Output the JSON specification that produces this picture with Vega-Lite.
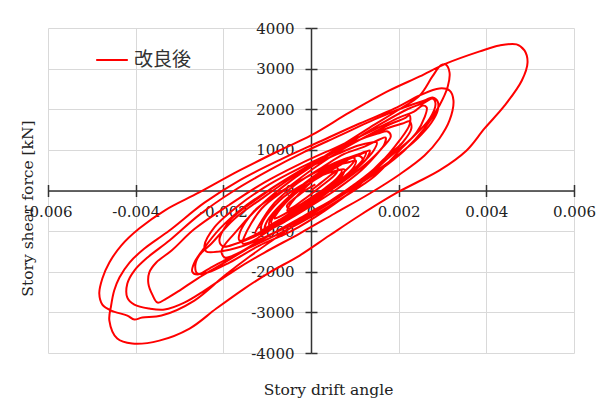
{
  "$schema": "https://vega.github.io/schema/vega-lite/v6.json",
  "width": 526,
  "height": 325,
  "autosize": {"type": "none"},
  "padding": {"left": 48, "top": 28, "right": 25, "bottom": 48},
  "background": "white",
  "config": {"view": {"stroke": null}},
  "data": {"values": [
    {"t":1,"x":0,"y":0},{"t":2,"x":0.00015,"y":123},{"t":3,"x":0.00038,"y":320},{"t":4,"x":0.00061,"y":493},{"t":5,"x":0.0007,"y":493},
    {"t":6,"x":0.00061,"y":320},{"t":7,"x":0.00031,"y":49},{"t":8,"x":-0.00003,"y":-197},{"t":9,"x":-0.00035,"y":-419},{"t":10,"x":-0.00054,"y":-493},
    {"t":11,"x":-0.00049,"y":-369},{"t":12,"x":-0.00015,"y":50},{"t":13,"x":0.00019,"y":350},{"t":14,"x":0.00054,"y":600},{"t":15,"x":0.00088,"y":700},
    {"t":16,"x":0.00102,"y":739},{"t":17,"x":0.00097,"y":566},{"t":18,"x":0.00065,"y":246},{"t":19,"x":0.00019,"y":-74},{"t":20,"x":-0.00026,"y":-394},
    {"t":21,"x":-0.00067,"y":-690},{"t":22,"x":-0.0009,"y":-813},{"t":23,"x":-0.00086,"y":-640},{"t":24,"x":-0.00049,"y":-150},{"t":25,"x":-0.00003,"y":250},
    {"t":26,"x":0.00042,"y":560},{"t":27,"x":0.00088,"y":780},{"t":28,"x":0.00122,"y":936},{"t":29,"x":0.00134,"y":985},{"t":30,"x":0.00127,"y":788},
    {"t":31,"x":0.00092,"y":443},{"t":32,"x":0.00042,"y":49},{"t":33,"x":-0.00015,"y":-369},{"t":34,"x":-0.00067,"y":-739},{"t":35,"x":-0.00113,"y":-1034},
    {"t":36,"x":-0.00127,"y":-1059},{"t":37,"x":-0.0012,"y":-887},{"t":38,"x":-0.00083,"y":-300},{"t":39,"x":-0.00031,"y":180},{"t":40,"x":0.00024,"y":560},
    {"t":41,"x":0.00076,"y":900},{"t":42,"x":0.00122,"y":1080},{"t":43,"x":0.00156,"y":1256},{"t":44,"x":0.0017,"y":1305},{"t":45,"x":0.00166,"y":1108},
    {"t":46,"x":0.00134,"y":739},{"t":47,"x":0.00083,"y":296},{"t":48,"x":0.00024,"y":-148},{"t":49,"x":-0.00038,"y":-591},{"t":50,"x":-0.00095,"y":-985},
    {"t":51,"x":-0.0014,"y":-1281},{"t":52,"x":-0.00156,"y":-1305},{"t":53,"x":-0.00152,"y":-1133},{"t":54,"x":-0.00113,"y":-450},{"t":55,"x":-0.00054,"y":60},
    {"t":56,"x":0.00008,"y":560},{"t":57,"x":0.0007,"y":1000},{"t":58,"x":0.00129,"y":1350},{"t":59,"x":0.00184,"y":1650},{"t":60,"x":0.00213,"y":1773},
    {"t":61,"x":0.00225,"y":1847},{"t":62,"x":0.00225,"y":1626},{"t":63,"x":0.00202,"y":1232},{"t":64,"x":0.00156,"y":650},{"t":65,"x":0.00099,"y":150},
    {"t":66,"x":0.00031,"y":-350},{"t":67,"x":-0.00038,"y":-800},{"t":68,"x":-0.00106,"y":-1158},{"t":69,"x":-0.00163,"y":-1527},{"t":70,"x":-0.00197,"y":-1650},
    {"t":71,"x":-0.00204,"y":-1478},{"t":72,"x":-0.00175,"y":-1059},{"t":73,"x":-0.00113,"y":-350},{"t":74,"x":-0.00045,"y":250},{"t":75,"x":0.00024,"y":750},
    {"t":76,"x":0.00092,"y":1200},{"t":77,"x":0.00161,"y":1650},{"t":78,"x":0.0022,"y":2000},{"t":79,"x":0.00259,"y":2167},{"t":80,"x":0.00277,"y":2266},
    {"t":81,"x":0.00284,"y":2143},{"t":82,"x":0.00271,"y":1773},{"t":83,"x":0.00229,"y":1281},{"t":84,"x":0.00175,"y":788},{"t":85,"x":0.00106,"y":100},
    {"t":86,"x":0.00031,"y":-500},{"t":87,"x":-0.00045,"y":-1000},{"t":88,"x":-0.00118,"y":-1355},{"t":89,"x":-0.00186,"y":-1773},{"t":90,"x":-0.00236,"y":-2020},
    {"t":91,"x":-0.00259,"y":-2044},{"t":92,"x":-0.00264,"y":-1847},{"t":93,"x":-0.00255,"y":-1601},{"t":94,"x":-0.00227,"y":-1305},{"t":95,"x":-0.00175,"y":-700},
    {"t":96,"x":-0.00106,"y":-150},{"t":97,"x":-0.00026,"y":450},{"t":98,"x":0.00054,"y":1000},{"t":99,"x":0.00134,"y":1550},{"t":100,"x":0.00202,"y":2000},
    {"t":101,"x":0.00248,"y":2340},{"t":102,"x":0.00277,"y":2808},{"t":103,"x":0.00296,"y":3079},{"t":104,"x":0.00307,"y":3103},{"t":105,"x":0.00316,"y":2906},
    {"t":106,"x":0.00312,"y":2562},{"t":107,"x":0.00293,"y":2094},{"t":108,"x":0.00259,"y":1527},{"t":109,"x":0.00213,"y":985},{"t":110,"x":0.00156,"y":493},
    {"t":111,"x":0.00088,"y":0},{"t":112,"x":0.00008,"y":-542},{"t":113,"x":-0.00072,"y":-1108},{"t":114,"x":-0.0014,"y":-1626},{"t":115,"x":-0.00197,"y":-2094},
    {"t":116,"x":-0.00266,"y":-2709},{"t":117,"x":-0.00341,"y":-3079},{"t":118,"x":-0.00385,"y":-3128},{"t":119,"x":-0.00403,"y":-3177},{"t":120,"x":-0.00419,"y":-3079},
    {"t":121,"x":-0.00456,"y":-2956},{"t":122,"x":-0.00476,"y":-2808},{"t":123,"x":-0.00483,"y":-2537},{"t":124,"x":-0.00476,"y":-2167},{"t":125,"x":-0.0046,"y":-1773},
    {"t":126,"x":-0.00433,"y":-1355},{"t":127,"x":-0.00392,"y":-936},{"t":128,"x":-0.00334,"y":-493},{"t":129,"x":-0.00255,"y":-49},{"t":130,"x":-0.00163,"y":493},
    {"t":131,"x":-0.00072,"y":985},{"t":132,"x":0,"y":1355},{"t":133,"x":0.00088,"y":1921},{"t":134,"x":0.00179,"y":2463},{"t":135,"x":0.00248,"y":2808},
    {"t":136,"x":0.00309,"y":3128},{"t":137,"x":0.00385,"y":3424},{"t":138,"x":0.0043,"y":3571},{"t":139,"x":0.00469,"y":3596},{"t":140,"x":0.00487,"y":3448},
    {"t":141,"x":0.00494,"y":3153},{"t":142,"x":0.00481,"y":2709},{"t":143,"x":0.00442,"y":2094},{"t":144,"x":0.00396,"y":1527},{"t":145,"x":0.00355,"y":985},
    {"t":146,"x":0.00293,"y":493},{"t":147,"x":0.00241,"y":197},{"t":148,"x":0.00197,"y":-49},{"t":149,"x":0.00111,"y":-616},{"t":150,"x":0.00042,"y":-1108},
    {"t":151,"x":-0.00026,"y":-1601},{"t":152,"x":-0.00095,"y":-2020},{"t":153,"x":-0.00152,"y":-2414},{"t":154,"x":-0.00216,"y":-2906},{"t":155,"x":-0.00277,"y":-3399},
    {"t":156,"x":-0.00346,"y":-3695},{"t":157,"x":-0.00408,"y":-3768},{"t":158,"x":-0.00442,"y":-3645},{"t":159,"x":-0.0046,"y":-3202},{"t":160,"x":-0.00456,"y":-2832},
    {"t":161,"x":-0.00449,"y":-2463},{"t":162,"x":-0.00437,"y":-2143},{"t":163,"x":-0.00414,"y":-1773},{"t":164,"x":-0.0038,"y":-1429},{"t":165,"x":-0.00323,"y":-985},
    {"t":166,"x":-0.00243,"y":-300},{"t":167,"x":-0.00163,"y":250},{"t":168,"x":-0.00072,"y":750},{"t":169,"x":0.00019,"y":1200},{"t":170,"x":0.00111,"y":1650},
    {"t":171,"x":0.00191,"y":2020},{"t":172,"x":0.00248,"y":2340},{"t":173,"x":0.00293,"y":2512},{"t":174,"x":0.00316,"y":2463},{"t":175,"x":0.00325,"y":2217},
    {"t":176,"x":0.00316,"y":1724},{"t":177,"x":0.00293,"y":1281},{"t":178,"x":0.00259,"y":862},{"t":179,"x":0.00202,"y":394},{"t":180,"x":0.00134,"y":-74},
    {"t":181,"x":0.00054,"y":-566},{"t":182,"x":-0.00026,"y":-1059},{"t":183,"x":-0.00106,"y":-1527},{"t":184,"x":-0.00175,"y":-1970},{"t":185,"x":-0.00243,"y":-2463},
    {"t":186,"x":-0.00289,"y":-2759},{"t":187,"x":-0.00334,"y":-2931},{"t":188,"x":-0.00369,"y":-2906},{"t":189,"x":-0.00403,"y":-2808},{"t":190,"x":-0.00419,"y":-2635},
    {"t":191,"x":-0.00419,"y":-2291},{"t":192,"x":-0.00403,"y":-1970},{"t":193,"x":-0.00373,"y":-1650},{"t":194,"x":-0.00323,"y":-1232},{"t":195,"x":-0.00255,"y":-600},
    {"t":196,"x":-0.00175,"y":0},{"t":197,"x":-0.00095,"y":500},{"t":198,"x":-0.00015,"y":950},{"t":199,"x":0.00065,"y":1350},{"t":200,"x":0.00145,"y":1750},
    {"t":201,"x":0.00213,"y":2050},{"t":202,"x":0.00259,"y":2217},{"t":203,"x":0.00277,"y":2291},{"t":204,"x":0.00289,"y":2192},{"t":205,"x":0.00289,"y":1970},
    {"t":206,"x":0.00275,"y":1675},{"t":207,"x":0.00243,"y":1281},{"t":208,"x":0.00197,"y":862},{"t":209,"x":0.00134,"y":369},{"t":210,"x":0.00065,"y":-123},
    {"t":211,"x":-0.00015,"y":-616},{"t":212,"x":-0.00083,"y":-1034},{"t":213,"x":-0.00152,"y":-1478},{"t":214,"x":-0.00209,"y":-1847},{"t":215,"x":-0.00259,"y":-2167},
    {"t":216,"x":-0.003,"y":-2463},{"t":217,"x":-0.0033,"y":-2660},{"t":218,"x":-0.0035,"y":-2759},{"t":219,"x":-0.00362,"y":-2562},{"t":220,"x":-0.00371,"y":-2291},
    {"t":221,"x":-0.00369,"y":-2020},{"t":222,"x":-0.00353,"y":-1773},{"t":223,"x":-0.00318,"y":-1478},{"t":224,"x":-0.00266,"y":-950},{"t":225,"x":-0.00186,"y":-350},
    {"t":226,"x":-0.00106,"y":200},{"t":227,"x":-0.00026,"y":650},{"t":228,"x":0.00065,"y":1100},{"t":229,"x":0.00145,"y":1500},{"t":230,"x":0.00202,"y":1800},
    {"t":231,"x":0.00236,"y":1950},{"t":232,"x":0.00255,"y":2094},{"t":233,"x":0.00264,"y":2044},{"t":234,"x":0.00259,"y":1798},{"t":235,"x":0.00241,"y":1429},
    {"t":236,"x":0.00202,"y":985},{"t":237,"x":0.00145,"y":350},{"t":238,"x":0.00076,"y":-150},{"t":239,"x":0.00008,"y":-600},{"t":240,"x":-0.00061,"y":-1000},
    {"t":241,"x":-0.00129,"y":-1350},{"t":242,"x":-0.00186,"y":-1650},{"t":243,"x":-0.00232,"y":-1921},{"t":244,"x":-0.00259,"y":-2069},{"t":245,"x":-0.00271,"y":-1995},
    {"t":246,"x":-0.00266,"y":-1773},{"t":247,"x":-0.00248,"y":-1478},{"t":248,"x":-0.00209,"y":-950},{"t":249,"x":-0.00152,"y":-400},{"t":250,"x":-0.00083,"y":100},
    {"t":251,"x":-0.00015,"y":550},{"t":252,"x":0.00054,"y":950},{"t":253,"x":0.00122,"y":1300},{"t":254,"x":0.00179,"y":1550},{"t":255,"x":0.00209,"y":1650},
    {"t":256,"x":0.00225,"y":1699},{"t":257,"x":0.00229,"y":1527},{"t":258,"x":0.00209,"y":1182},{"t":259,"x":0.00168,"y":788},{"t":260,"x":0.00111,"y":200},
    {"t":261,"x":0.00042,"y":-320},{"t":262,"x":-0.00026,"y":-750},{"t":263,"x":-0.00095,"y":-1100},{"t":264,"x":-0.00159,"y":-1380},{"t":265,"x":-0.00209,"y":-1502},
    {"t":266,"x":-0.00239,"y":-1502},{"t":267,"x":-0.00243,"y":-1355},{"t":268,"x":-0.0022,"y":-900},{"t":269,"x":-0.00163,"y":-350},{"t":270,"x":-0.00095,"y":150},
    {"t":271,"x":-0.00026,"y":550},{"t":272,"x":0.00042,"y":900},{"t":273,"x":0.00099,"y":1200},{"t":274,"x":0.00152,"y":1400},{"t":275,"x":0.00175,"y":1453},
    {"t":276,"x":0.00182,"y":1330},{"t":277,"x":0.00161,"y":1034},{"t":278,"x":0.00115,"y":500},{"t":279,"x":0.00061,"y":50},{"t":280,"x":-0.00003,"y":-400},
    {"t":281,"x":-0.00065,"y":-800},{"t":282,"x":-0.00122,"y":-1100},{"t":283,"x":-0.0017,"y":-1305},{"t":284,"x":-0.002,"y":-1379},{"t":285,"x":-0.00209,"y":-1232},
    {"t":286,"x":-0.00182,"y":-700},{"t":287,"x":-0.00122,"y":-200},{"t":288,"x":-0.00061,"y":250},{"t":289,"x":0.00001,"y":600},{"t":290,"x":0.00061,"y":900},
    {"t":291,"x":0.00106,"y":1100},{"t":292,"x":0.00138,"y":1182},{"t":293,"x":0.0015,"y":1182},{"t":294,"x":0.00143,"y":985},{"t":295,"x":0.00111,"y":600},
    {"t":296,"x":0.00065,"y":180},{"t":297,"x":0.00008,"y":-280},{"t":298,"x":-0.00045,"y":-620},{"t":299,"x":-0.00095,"y":-900},{"t":300,"x":-0.0014,"y":-1158},
    {"t":301,"x":-0.00163,"y":-1232},{"t":302,"x":-0.00163,"y":-1059},{"t":303,"x":-0.00129,"y":-500},{"t":304,"x":-0.00072,"y":-50},{"t":305,"x":-0.00015,"y":300},
    {"t":306,"x":0.00038,"y":600},{"t":307,"x":0.00083,"y":800},{"t":308,"x":0.00111,"y":850},{"t":309,"x":0.00118,"y":739},{"t":310,"x":0.00088,"y":400},
    {"t":311,"x":0.00042,"y":0},{"t":312,"x":-0.00003,"y":-350},{"t":313,"x":-0.00049,"y":-620},{"t":314,"x":-0.0009,"y":-837},{"t":315,"x":-0.00113,"y":-961},
    {"t":316,"x":-0.00111,"y":-788},{"t":317,"x":-0.00072,"y":-250},{"t":318,"x":-0.00026,"y":100},{"t":319,"x":0.00019,"y":350},{"t":320,"x":0.00061,"y":500},
    {"t":321,"x":0.00076,"y":520},{"t":322,"x":0.0007,"y":345},{"t":323,"x":0.00031,"y":0},{"t":324,"x":-0.00015,"y":-300},{"t":325,"x":-0.00061,"y":-580},
    {"t":326,"x":-0.00083,"y":-690},{"t":327,"x":-0.00076,"y":-542},{"t":328,"x":-0.00038,"y":-100},{"t":329,"x":0,"y":200},
    {"t":330,"x":0.0003,"y":400},{"t":331,"x":0.0007,"y":650},{"t":332,"x":0.00095,"y":820},{"t":333,"x":0.001,"y":760},{"t":334,"x":0.0007,"y":400},
    {"t":335,"x":0.0002,"y":-100},{"t":336,"x":-0.0004,"y":-550},{"t":337,"x":-0.0008,"y":-800},{"t":338,"x":-0.00095,"y":-850},{"t":339,"x":-0.0009,"y":-650},
    {"t":340,"x":-0.0005,"y":-150},{"t":341,"x":0,"y":300},{"t":342,"x":0.0005,"y":650},{"t":343,"x":0.0011,"y":900},{"t":344,"x":0.00125,"y":950},
    {"t":345,"x":0.0012,"y":780},{"t":346,"x":0.0008,"y":350},{"t":347,"x":0.0002,"y":-150},{"t":348,"x":-0.0004,"y":-550},{"t":349,"x":-0.0009,"y":-850},
    {"t":350,"x":-0.00105,"y":-950},{"t":351,"x":-0.001,"y":-750},{"t":352,"x":-0.0006,"y":-250},{"t":353,"x":-0.0001,"y":200},{"t":354,"x":0.0004,"y":500},
    {"t":355,"x":0.0006,"y":560},{"t":356,"x":0.00058,"y":430},{"t":357,"x":0.0002,"y":80},{"t":358,"x":-0.0002,"y":-250},{"t":359,"x":-0.0005,"y":-450},
    {"t":360,"x":-0.00055,"y":-380},{"t":361,"x":-0.0002,"y":-50},{"t":362,"x":0.0001,"y":150}
  ]},
  "resolve": {"axis": {"x": "independent", "y": "independent"}},
  "layer": [
    {
      "mark": {"type": "line", "interpolate": "catmull-rom", "strokeWidth": 2, "strokeJoin": "round"},
      "encoding": {
        "x": {
          "field": "x", "type": "quantitative",
          "scale": {"domain": [-0.006, 0.006], "nice": false, "zero": false},
          "axis": {
            "orient": "bottom", "offset": -162.5,
            "values": [-0.006, -0.004, -0.002, 0, 0.002, 0.004, 0.006],
            "labelExpr": "'' + datum.value",
            "labelFont": "DejaVu Serif", "labelFontSize": 15, "labelColor": "#222",
            "labelPadding": 8, "labelFlush": false, "labelOverlap": false,
            "domainColor": "#333", "domainWidth": 1.5,
            "tickColor": "#333", "tickWidth": 1.5, "tickSize": 6,
            "grid": true, "gridColor": "#d9d9d9", "gridWidth": 1,
            "title": "Story drift angle",
            "titleFont": "DejaVu Serif", "titleFontSize": 15.5, "titleFontWeight": "normal", "titleColor": "#222",
            "titleX": 280, "titleY": 199, "titleAlign": "center", "titleBaseline": "middle", "titleAngle": 0
          }
        },
        "y": {
          "field": "y", "type": "quantitative",
          "scale": {"domain": [-4000, 4000], "nice": false, "zero": false},
          "axis": {
            "orient": "left", "offset": -263,
            "values": [-4000, -3000, -2000, -1000, 0, 1000, 2000, 3000, 4000],
            "labelExpr": "'' + datum.value",
            "labelFont": "DejaVu Serif", "labelFontSize": 15, "labelColor": "#222",
            "labelPadding": 11, "labelFlush": false, "labelOverlap": false,
            "domainColor": "#333", "domainWidth": 1.5,
            "tickColor": "#333", "tickWidth": 1.5, "tickSize": 6,
            "grid": true, "gridColor": "#d9d9d9", "gridWidth": 1,
            "title": "Story shear force [kN]",
            "titleFont": "DejaVu Serif", "titleFontSize": 15.5, "titleFontWeight": "normal", "titleColor": "#222",
            "titleX": -284, "titleY": 180, "titleAlign": "center", "titleBaseline": "middle", "titleAngle": -90
          }
        },
        "order": {"field": "t", "type": "quantitative"},
        "color": {
          "datum": "改良後", "type": "nominal",
          "scale": {"range": ["#ff0000"]},
          "legend": {
            "orient": "none", "legendX": 47, "legendY": 15, "title": null, "padding": 0,
            "symbolType": "stroke", "symbolSize": 1000, "symbolStrokeWidth": 2,
            "labelFont": "Noto Sans CJK JP", "labelFontSize": 19, "labelColor": "#333", "labelOffset": 5
          }
        }
      }
    },
    {
      "mark": {"type": "point", "opacity": 0},
      "encoding": {
        "x": {
          "field": "x", "type": "quantitative",
          "axis": {
            "orient": "top", "offset": -162.5,
            "values": [-0.006, -0.004, -0.002, 0, 0.002, 0.004, 0.006],
            "labels": false, "grid": false, "domain": false, "title": null,
            "tickColor": "#333", "tickWidth": 1.5, "tickSize": 6
          }
        },
        "y": {
          "field": "y", "type": "quantitative",
          "axis": {
            "orient": "right", "offset": -263,
            "values": [-4000, -3000, -2000, -1000, 0, 1000, 2000, 3000, 4000],
            "labels": false, "grid": false, "domain": false, "title": null,
            "tickColor": "#333", "tickWidth": 1.5, "tickSize": 6
          }
        }
      }
    }
  ]
}
